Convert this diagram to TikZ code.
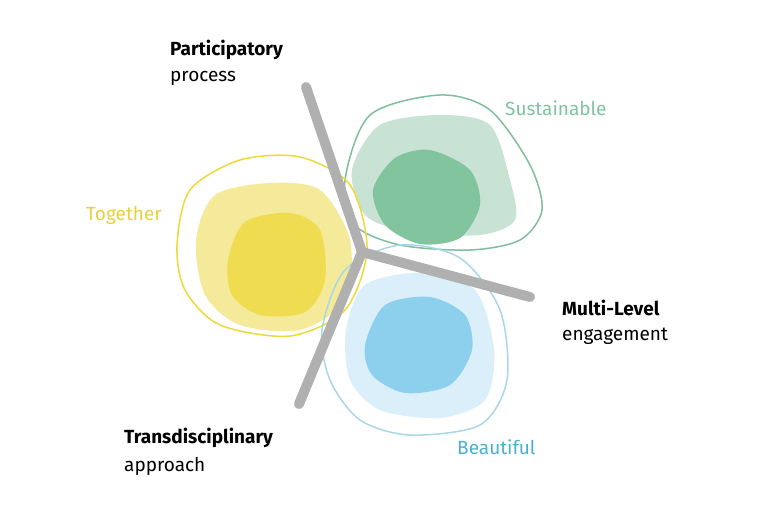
\documentclass[tikz,border=0pt]{standalone}
\usepackage{fontspec}
\setmainfont{Fira Sans}
\definecolor{yo}{HTML}{EED93A}\definecolor{yl}{HTML}{F5E99A}\definecolor{yd}{HTML}{F0DC50}
\definecolor{go}{HTML}{7FBFA0}\definecolor{gl}{HTML}{C8E3D3}\definecolor{gd}{HTML}{82C49E}
\definecolor{bo}{HTML}{A8D8E8}\definecolor{bl}{HTML}{DBEFFA}\definecolor{bd}{HTML}{8DD0EE}
\definecolor{gt}{HTML}{7FC4A0}\definecolor{yt}{HTML}{E8D040}\definecolor{bt}{HTML}{4AB0D0}
\definecolor{arm}{HTML}{B0B0B0}
\begin{document}
\begin{tikzpicture}[x=1pt,y=-1pt,
  lbl/.style={anchor=west,font=\fontsize{19}{22}\selectfont,inner sep=0pt},
  armline/.style={arm,line width=10pt,line cap=round,line join=round}]
\path[fill=white] (0,0) rectangle (768,512);
% green
\fill[gl] plot[smooth cycle] coordinates{(352,170)(380,125)(440,115)(490,125)(510,180)(515,220)(480,235)(410,232)(365,215)};
\fill[gd] plot[smooth cycle] coordinates{(373,190)(395,158)(430,150)(470,170)(480,205)(460,238)(420,244)(385,225)};
\draw[go,line width=1.5pt] plot[smooth cycle] coordinates{(345,180)(370,115)(440,95)(490,110)(530,165)(542,210)(520,240)(470,250)(400,245)(355,225)};
% yellow
\fill[yl] plot[smooth cycle] coordinates{(196,240)(215,195)(270,183)(320,190)(350,240)(345,300)(300,330)(240,325)(205,295)};
\fill[yd] plot[smooth cycle] coordinates{(228,260)(245,222)(290,213)(320,230)(325,280)(305,312)(260,315)(232,295)};
\draw[yo,line width=1.5pt] plot[smooth cycle] coordinates{(177,245)(190,190)(240,160)(300,157)(350,185)(367,250)(345,310)(290,336)(220,325)(185,290)};
% blue
\fill[bl] plot[smooth cycle] coordinates{(346,330)(365,285)(420,273)(475,290)(494,350)(485,400)(440,418)(380,410)(350,380)};
\fill[bd] plot[smooth cycle] coordinates{(365,345)(385,305)(430,297)(465,315)(472,350)(450,385)(405,393)(372,375)};
\draw[bo,line width=1.5pt] plot[smooth cycle] coordinates{(322,330)(345,270)(400,245)(460,258)(500,310)(507,380)(480,425)(410,435)(360,420)(330,380)};
% arms
\coordinate (c) at (362,252);
\coordinate (a1) at (306,87);
\coordinate (a2) at (530,297);
\coordinate (a3) at (299,404);
\draw[armline] (a1) -- (c) -- (a2);
\draw[armline] (c) -- (a3);
% labels
\node[lbl] (p1) at (170,50) {\textbf{Participatory}};
\node[lbl] (p2) at (170,78) {process};
\node[lbl,text=gt] (s) at (505,108) {Sustainable};
\node[lbl,text=yt] (t) at (86,215) {Together};
\node[lbl] (m1) at (562,308) {\textbf{Multi-Level}};
\node[lbl] (m2) at (562,336) {engagement};
\node[lbl] (d1) at (124,438) {\textbf{Transdisciplinary}};
\node[lbl] (d2) at (124,466) {approach};
\node[lbl,text=bt] (b) at (457,447) {Beautiful};
\end{tikzpicture}
\end{document}
